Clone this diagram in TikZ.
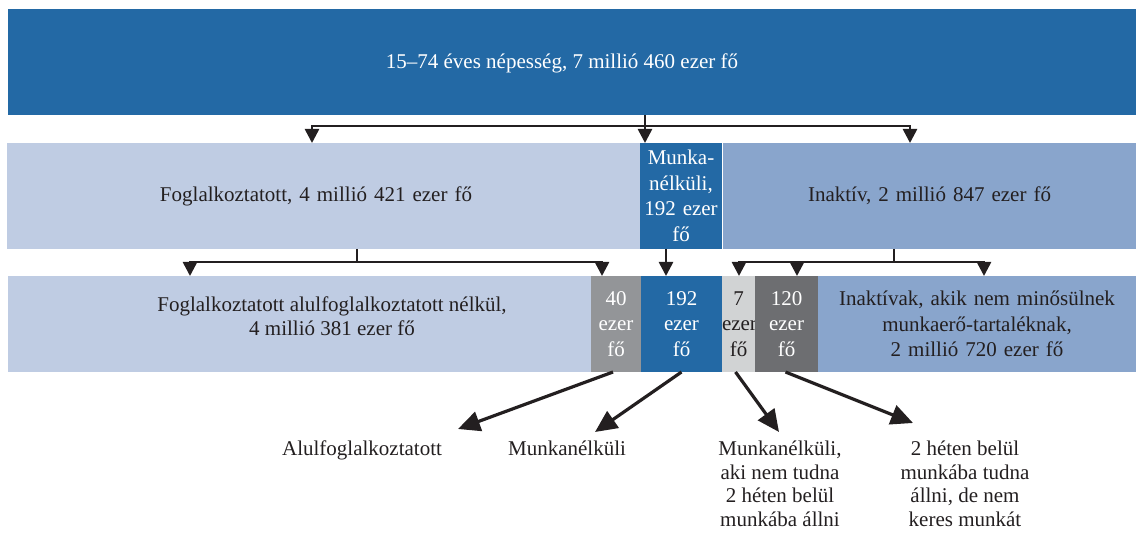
\documentclass[tikz,border=0pt]{standalone}
\usepackage{fontspec}
\setmainfont{Liberation Serif}
\usetikzlibrary{arrows.meta}
\definecolor{dblue}{HTML}{2369A5}
\definecolor{lblue}{HTML}{BFCCE3}
\definecolor{mblue}{HTML}{89A5CC}
\definecolor{gmid}{HTML}{939598}
\definecolor{glight}{HTML}{D1D3D4}
\definecolor{gdark}{HTML}{6D6E71}
\definecolor{ink}{HTML}{231F20}
\begin{document}
\begin{tikzpicture}[x=1pt,y=-1pt,
  cell/.style 2 args={anchor=north west, inner sep=0pt, outer sep=0pt,
    minimum width=#1, text width=#1, minimum height=#2, align=center,
    font=\fontsize{21}{25.5}\selectfont, text=ink},
  txt/.style={inner sep=0pt, outer sep=0pt, align=center,
    font=\fontsize{21}{23.5}\selectfont, text=ink},
  conn/.style={draw=ink, line width=2.6pt},
  arr/.style={conn, -{Triangle[width=14pt,length=14pt]}},
  arrboth/.style={conn, line join=miter, {Triangle[width=14pt,length=14pt]}-{Triangle[width=14pt,length=14pt]}},
  bigarr/.style={draw=ink, line width=3.2pt, -{Triangle[width=20pt,length=22pt]}}
]
\useasboundingbox (0,0) rectangle (1136,534);

% top
\node[cell={1128pt}{106pt}, fill=dblue] (top) at (8,9) {};
\node[txt, text=white, anchor=base] (toptxt) at (562,69) {15–74 éves népesség, 7 millió 460 ezer fő};

% row 2
\node[cell={633pt}{106pt}, fill=lblue] (emp) at (7,143) {\hspace*{-15pt}Foglalkoztatott, 4 millió 421 ezer fő};
\node[cell={82pt}{106pt}, fill=dblue, text=white] (unemp) at (640,143) {Munka-\\nélküli,\\192 ezer\\fő};
\node[cell={413pt}{106pt}, fill=mblue] (inact) at (723,143) {Inaktív, 2 millió 847 ezer fő};

% row 3
\node[cell={583pt}{96pt}, fill=lblue] (emp2) at (8,276) {};
\node[txt, anchor=north] (emp2txt) at (332,297) {Foglalkoztatott alulfoglalkoztatott nélkül,\\[0.5pt]4 millió 381 ezer fő};
\node[cell={50pt}{96pt}, fill=gmid, text=white] (under) at (591,276) {40\\ezer\\fő};
\node[cell={81pt}{96pt}, fill=dblue, text=white] (unemp2) at (641,276) {192\\ezer\\fő};
\node[cell={33pt}{96pt}, fill=glight] (seven) at (722,276) {7\\ezer\\fő};
\node[cell={63pt}{96pt}, fill=gdark, text=white] (avail) at (755,276) {120\\ezer\\fő};
\node[cell={318pt}{96pt}, fill=mblue] (inact2) at (818,276) {Inaktívak, akik nem minősülnek\\munkaerő-tartaléknak,\\2 millió 720 ezer fő};

% bottom labels
\node[txt, anchor=base] (lab1) at (362,456) {Alulfoglalkoztatott};
\node[txt, anchor=base] (lab2) at (567,456) {Munkanélküli};
\node[txt, anchor=north] (lab3) at (780,441) {Munkanélküli,\\aki nem tudna\\2 héten belül\\munkába állni};
\node[txt, anchor=north] (lab4) at (965,441) {2 héten belül\\munkába tudna\\állni, de nem\\keres munkát};

% connectors top -> row 2
\coordinate (t0) at (645,126);
\coordinate (tL) at (312,126);
\coordinate (tR) at (910,126);
\draw[conn] (top.south -| t0) -- (t0);
\draw[arrboth] (tL |- emp.north) -- (tL) -- (tR) -- (tR |- inact.north);
\draw[arr] (t0) -- (t0 |- unemp.north);

% row 2 -> row 3
\coordinate (mL) at (357,262);
\coordinate (aL) at (190,262);
\coordinate (aR) at (602,262);
\draw[conn] (emp.south -| mL) -- (mL);
\draw[arrboth] (aL |- emp2.north) -- (aL) -- (aR) -- (aR |- under.north);

\coordinate (mM) at (666,262);
\draw[arr] (unemp.south -| mM) -- (unemp2.north -| mM);

\coordinate (rS) at (894,262);
\coordinate (r1) at (739,262);
\coordinate (r2) at (797,262);
\coordinate (r3) at (984,262);
\draw[conn] (inact.south -| rS) -- (rS);
\draw[arrboth] (r1 |- seven.north) -- (r1) -- (r3) -- (r3 |- inact2.north);
\draw[arr] (r2) -- (r2 |- avail.north);

% row 3 -> labels
\coordinate (e1) at (458,429);
\coordinate (e2) at (595,432);
\coordinate (e3) at (779,432);
\coordinate (e4) at (913,423);
\draw[bigarr] ([xshift=-3pt]under.south) -- (e1);
\draw[bigarr] (unemp2.south) -- (e2);
\draw[bigarr] ([xshift=-3pt]seven.south) -- (e3);
\draw[bigarr] ([xshift=-1pt]avail.south) -- (e4);
\end{tikzpicture}
\end{document}
